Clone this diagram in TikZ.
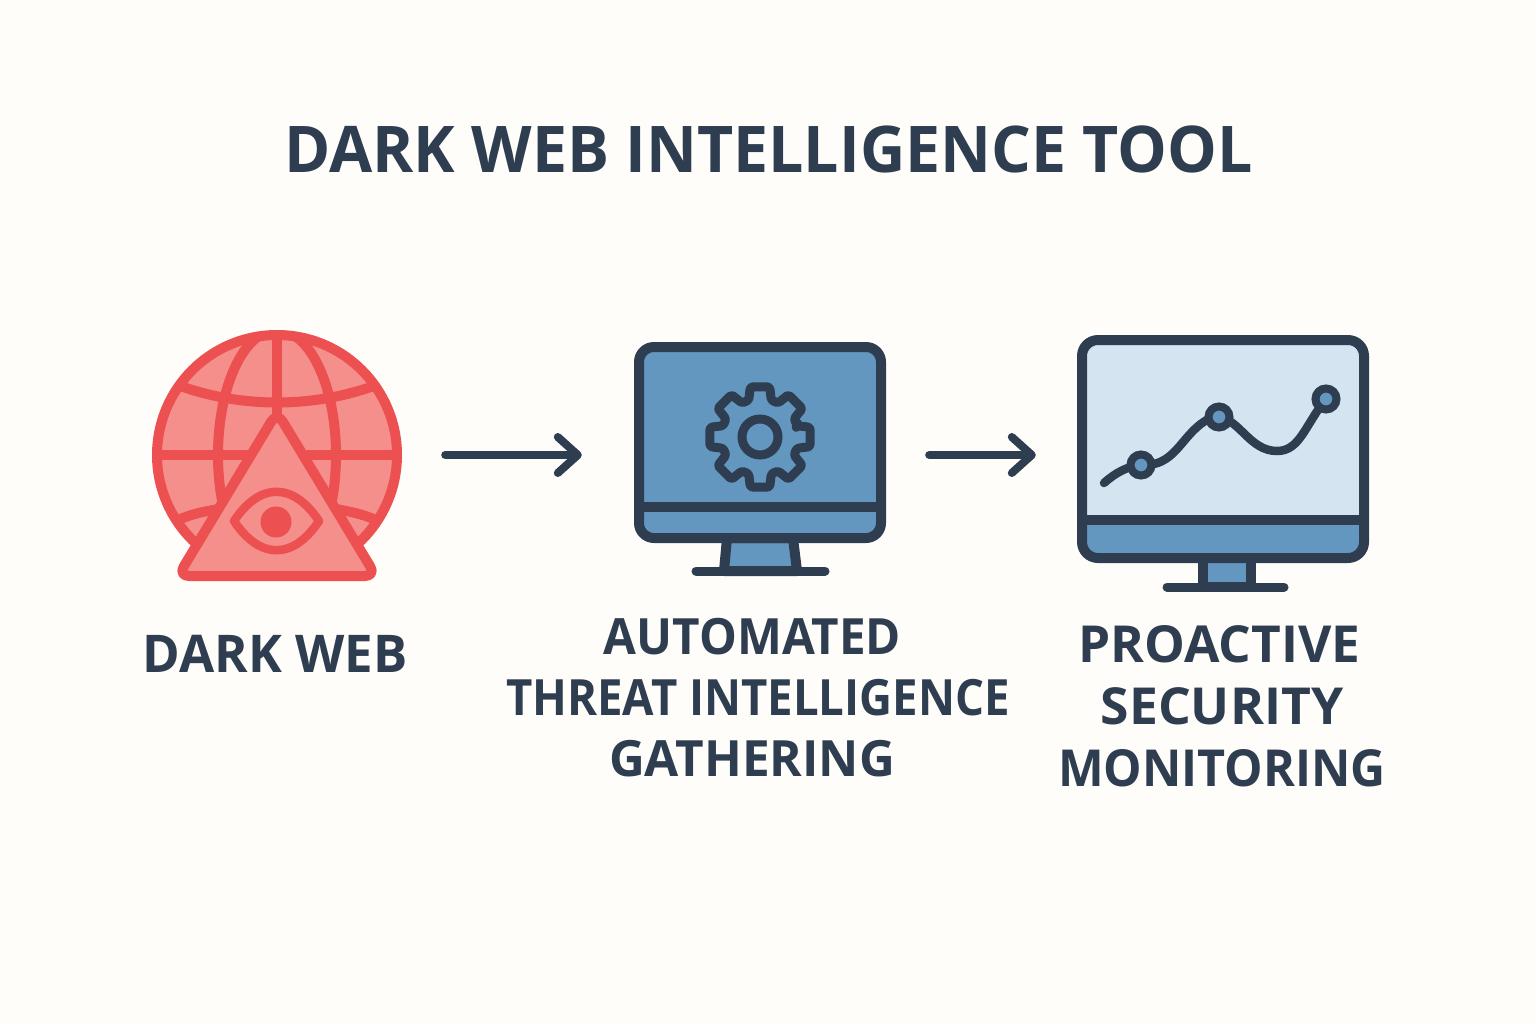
\documentclass[tikz,border=0pt]{standalone}
\usepackage{fontspec}
\usepackage{graphicx}
\setmainfont{Open Sans}
\usetikzlibrary{arrows.meta}
\definecolor{bgc}{HTML}{FFFDF9}
\definecolor{ink}{HTML}{2E3E50}
\definecolor{redline}{HTML}{ED5050}
\definecolor{redfill}{HTML}{F58F8C}
\definecolor{bluefill}{HTML}{6497BF}
\definecolor{palefill}{HTML}{D4E4F1}
\newcommand{\xfit}[2]{\scalebox{#1}[1]{#2}}
\tikzset{
  redstroke/.style={draw=redline,line width=10pt,line join=round},
  inkstroke/.style={draw=ink,line width=10pt,line join=round},
  anchorbox/.style={draw=none,fill=none,inner sep=0pt,minimum height=10pt},
  flowarrow/.style={draw=ink,line width=8pt,line cap=round,
    -{Straight Barb[length=20pt,width=36pt,line width=8pt,round]}},
  caption/.style={text=ink,align=center,inner sep=0pt},
  headline/.style={text=ink,font=\bfseries\fontsize{64.4}{70}\selectfont,inner sep=0pt},
}
\begin{document}
\begin{tikzpicture}[x=1pt,y=-1pt]
\useasboundingbox (0,0) rectangle (1536,1024);
\fill[bgc] (0,0) rectangle (1536,1024);

\node[headline] (title) at (768.5,149) {\xfit{0.972}{DARK WEB INTELLIGENCE TOOL}};

% invisible icon frames for the connectors
\node[anchorbox,minimum width=250pt] (dark) at (277,455) {};
\node[anchorbox,minimum width=252pt] (auto) at (760,455) {};
\node[anchorbox,minimum width=292pt] (proa) at (1223,455) {};

% globe
\fill[redfill] (277,455) circle (120);
\begin{scope}
\clip (277,455) circle (120);
\draw[redstroke] (277,455) ellipse (59 and 125);
\draw[redstroke] (277,330) -- (277,430);
\draw[redstroke] (150,455) -- (404,455);
\draw[redstroke] (165,380) .. controls (235,410) and (319,410) .. (389,380);
\draw[redstroke] (165,527) .. controls (185,515) and (200,512) .. (225,508);
\draw[redstroke] (389,527) .. controls (369,515) and (354,512) .. (329,508);
\end{scope}
\draw[redstroke] (277,455) circle (120);
% triangle with eye
\draw[redstroke,fill=redfill,rounded corners=11pt] (277,412) -- (178,576) -- (376,576) -- cycle;
\draw[draw=redline,line width=8.5pt,line join=round] (234,521) .. controls (260,482) and (293,482) .. (319,521) .. controls (293,560) and (260,560) .. (234,521) -- cycle;
\fill[redline] (276,522) circle (15.5);

% monitor with gear
\draw[inkstroke,fill=bluefill] (727,538) -- (724,571) -- (797,571) -- (793,538) -- cycle;
\draw[draw=ink,line width=9pt,line cap=round] (696,571) -- (825,571);
\draw[inkstroke,fill=bluefill,rounded corners=15pt] (639,347) rectangle (881,538);
\draw[inkstroke] (639,507) -- (881,507);
\begin{scope}[shift={(760,437)}]
\draw[draw=ink,line width=9pt,line join=round,rounded corners=2.5pt]
  (-18:39) \foreach \a in {0,45,...,315} { -- (\a-17:38.5) -- (\a-11:51) -- (\a+11:51) -- (\a+17:38.5) } -- cycle;
\draw[draw=ink,line width=9pt] (0,0) circle (18);
\end{scope}

% monitor with chart
\draw[inkstroke,fill=bluefill] (1203,558) rectangle (1251,587);
\draw[draw=ink,line width=9pt,line cap=round] (1167,587) -- (1284,587);
\fill[palefill,rounded corners=16pt] (1082,340) rectangle (1364,558);
\fill[bluefill,rounded corners=16pt] (1082,500) rectangle (1364,558);
\fill[palefill] (1082,500) rectangle (1364,520);
\draw[inkstroke,rounded corners=16pt] (1082,340) rectangle (1364,558);
\draw[inkstroke] (1082,520) -- (1364,520);
\draw[draw=ink,line width=8.5pt,line cap=round] (1104,483) .. controls (1115,473) and (1128,466) .. (1141,465)
  .. controls (1175,467) and (1180,437) .. (1205,421)
  .. controls (1212,417) and (1215,416) .. (1219,417)
  .. controls (1240,420) and (1250,451) .. (1277,451)
  .. controls (1300,451) and (1305,425) .. (1326,399);
\foreach \p in {(1141,465),(1219,417),(1326,399)}
  \draw[draw=ink,fill=bluefill,line width=8pt] \p circle (10.5);

% connectors
\draw[flowarrow,shorten <=43pt,shorten >=52pt] (dark.east) -- (auto.west);
\draw[flowarrow,shorten <=43pt,shorten >=41pt] (auto.east) -- (proa.west);

% captions
\node[caption,font=\bfseries\fontsize{52}{61}\selectfont] (lbl1) at (275,654) {\xfit{0.98}{DARK WEB}};
\node[caption,font=\bfseries\fontsize{50}{61}\selectfont] (lbl2) at (758,698) {\xfit{0.952}{AUTOMATED}\hspace*{11pt}\\\xfit{0.911}{THREAT INTELLIGENCE}\\\xfit{0.99}{GATHERING}\hspace*{12pt}};
\node[caption,font=\bfseries\fontsize{51}{62}\selectfont] (lbl3) at (1222,706) {\xfit{1.007}{PROACTIVE}\hspace*{5pt}\\\xfit{1.012}{SECURITY}\hspace*{9pt}\\\xfit{0.95}{MONITORING}};
\end{tikzpicture}
\end{document}
